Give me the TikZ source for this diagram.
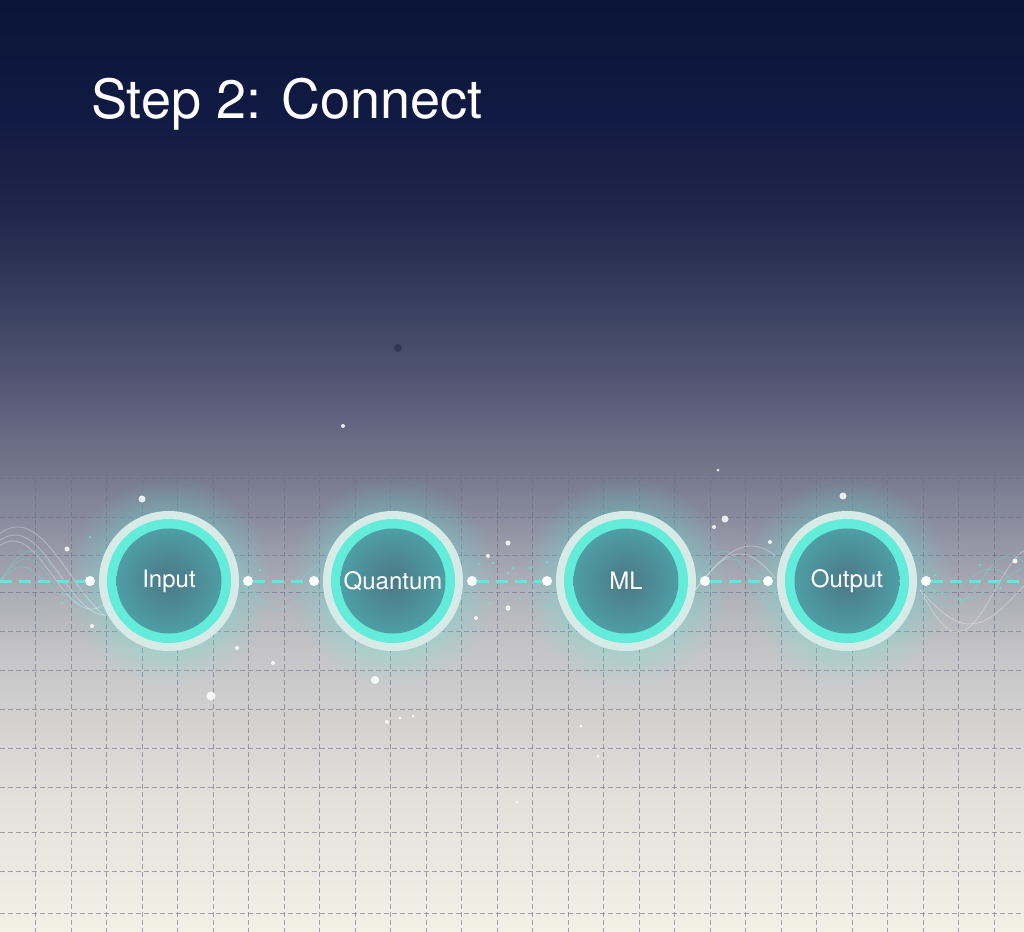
\documentclass[tikz,border=0pt]{standalone}
\usepackage{fontspec}
\setmainfont{TeX Gyre Heros}
\usetikzlibrary{positioning}
\usetikzlibrary{fadings}
\usetikzlibrary{backgrounds}

\definecolor{skytop}{HTML}{0A1538}
\definecolor{sky120}{HTML}{111A42}
\definecolor{sky200}{HTML}{1E2549}
\definecolor{sky260}{HTML}{2C3254}
\definecolor{sky320}{HTML}{3E4464}
\definecolor{sky380}{HTML}{525674}
\definecolor{sky470}{HTML}{74778C}
\definecolor{sky560}{HTML}{9C9DAB}
\definecolor{sky650}{HTML}{C4C4C6}
\definecolor{sky800}{HTML}{E3E1DC}
\definecolor{skybottom}{HTML}{F3F0E6}
\definecolor{ringpale}{HTML}{D6EBE8}
\definecolor{ringcyan}{HTML}{62ECD9}
\definecolor{coredeep}{HTML}{4A7886}
\definecolor{coreedge}{HTML}{4F9EA5}
\definecolor{linkcyan}{HTML}{5EEADA}
\definecolor{gridgray}{HTML}{6A708A}
\definecolor{dustdark}{HTML}{2D3250}

\pgfdeclareverticalshading{skyfade}{100bp}{
    color(0bp)=(skybottom); color(25bp)=(skybottom);
    color(32.08bp)=(sky800); color(40.13bp)=(sky650);
    color(44.96bp)=(sky560); color(49.79bp)=(sky470);
    color(54.61bp)=(sky380); color(57.83bp)=(sky320);
    color(61.05bp)=(sky260); color(64.27bp)=(sky200);
    color(68.56bp)=(sky120); color(75bp)=(skytop); color(100bp)=(skytop)}

\tikzfading[name=halo, inner color=transparent!20, outer color=transparent!100]

\begin{document}
\begin{tikzpicture}[
                x=0.5pt, y=-0.5pt,
                stage/.style = {
                    circle,
                    minimum size = 70pt,
                    inner sep = 0pt,
                    outer sep = 0pt,
                    fill = ringpale,
                    text = white,
                    font = \fontsize{12}{14}\selectfont,
                    path picture = {
                        \fill[ringcyan] (path picture bounding box.center) circle (31pt);
                        \shade[inner color=coredeep, outer color=coreedge]
                            (path picture bounding box.center) circle (26.25pt);
                    }
                },
                jack/.style = {
                    circle,
                    fill = white,
                    minimum size = #1,
                    inner sep = 0pt,
                    outer sep = 0pt
                },
                jack/.default = 5pt,
                link/.style = {draw=linkcyan, line width=1.5pt, dash pattern=on 6pt off 3.5pt},
                gridline/.style = {draw=gridgray, line width=0.5pt, dash pattern=on 2.5pt off 1.5pt, opacity=0.6},
                speck/.style = {fill=white, opacity=0.85},
                wave/.style = {draw=#1, line width=0.45pt, opacity=0.3},
                wave/.default = linkcyan,
                node distance = {2pt}
            ]
            \useasboundingbox (0,0) rectangle (1024,932);
            % 
            \node[font=\fontsize{27}{30}\selectfont, text=white, anchor=base west] (heading) at (84,118) {Step 2: Connect};
            % 
            \node[stage] (input) at (169,581) {Input};
            \node[stage, right=42pt of input] (quantum) {Quantum};
            \node[stage, right=46.5pt of quantum] (ml) {ML};
            \node[stage, right=40.5pt of ml] (output) {Output};
            % 
            \foreach \s in {input,quantum,ml,output} {
                \node[jack, left=of \s] (\s-w) {};
                \node[jack, right=of \s] (\s-e) {};
            }
            \coordinate (west-edge) at (0,581);
            \coordinate (east-edge) at (1024,581);
            % 
            \begin{pgfonlayer}{background}
                \shade[shading=skyfade] (0,0) rectangle (1024,932);
                \fill[white, opacity=0.12, path fading=halo] (-60,500) rectangle (1084,680);
                % 
                \foreach \k in {1,...,28}
                    \draw[gridline] (35.5*\k,472) -- (35.5*\k,932);
                \foreach \h in {478,517,555,592,631,670,709,748,787,832,871,913}
                    \draw[gridline] (0,\h) -- (1024,\h);
                % 
                \foreach \s in {input,quantum,ml,output}
                    \fill[linkcyan, path fading=halo] (\s) circle (52pt);
                % 
                \foreach \a/\f in {22/3.4, 30/2.9, 14/4.1}
                    \draw[wave] plot[domain=0:105, samples=40, smooth] (\x, {581-\a*sin(\f*\x)});
                \foreach \a/\f in {40/2.0, 48/1.7, 34/2.3}
                    \draw[wave=white] plot[domain=0:105, samples=40, smooth] (\x, {575-\a*sin(\f*\x+60)});
                \foreach \a/\f in {20/3.0, 28/2.4}
                    \draw[wave] plot[domain=240:320, samples=30, smooth] (\x, {581+\a*sin(\f*(\x-240))});
                \foreach \a/\f in {22/2.6, 30/3.2}
                    \draw[wave] plot[domain=695:775, samples=30, smooth] (\x, {581-\a*sin(\f*(\x-695))});
                \foreach \a/\f in {36/2.0, 44/1.6}
                    \draw[wave=white] plot[domain=695:775, samples=30, smooth] (\x, {590-\a*sin(\f*(\x-695))});
                \foreach \a/\f in {18/2.2, 26/3.0, 12/3.8}
                    \draw[wave] plot[domain=920:1024, samples=40, smooth] (\x, {581+\a*sin(\f*(\x-920))});
                \foreach \a/\f in {34/1.8, 42/2.4}
                    \draw[wave=white] plot[domain=920:1024, samples=40, smooth] (\x, {590+\a*sin(\f*(\x-920))});
                % 
                \draw[link] (west-edge) -- (input-w);
                \draw[link] (input-e) -- (quantum-w);
                \draw[link] (quantum-e) -- (ml-w);
                \draw[link] (ml-e) -- (output-w);
                \draw[link] (output-e) -- (east-edge);
            \end{pgfonlayer}
            % 
            \fill[dustdark, opacity=0.8] (398,348) circle (2pt);
            \foreach \px/\py/\r in {343/426/1, 142/499/1.75, 67/549/1.25, 92/626/1, 237/648/1,
                    273/663/1, 211/696/2.25, 375/680/2, 387/722/1, 400/718/0.75, 413/716/0.75,
                    508/543/1.25, 488/556/1, 508/608/1.25, 476/618/1, 725/519/1.75, 714/527/1,
                    770/542/1, 718/470/0.75, 843/496/1.75, 1015/561/1.25, 581/726/0.75,
                    598/756/0.75, 517/802/0.75}
                \fill[speck] (\px,\py) circle (\r pt);
            \foreach \px/\py in {90/537, 260/570, 479/564, 493/563, 513/568, 530/568, 547/562,
                    520/598, 545/605, 489/603, 508/573, 935/575, 960/600, 1000/588, 980/565, 62/603}
                \fill[linkcyan, opacity=0.7] (\px,\py) circle (0.75pt);
            % 
        \end{tikzpicture}
\end{document}
